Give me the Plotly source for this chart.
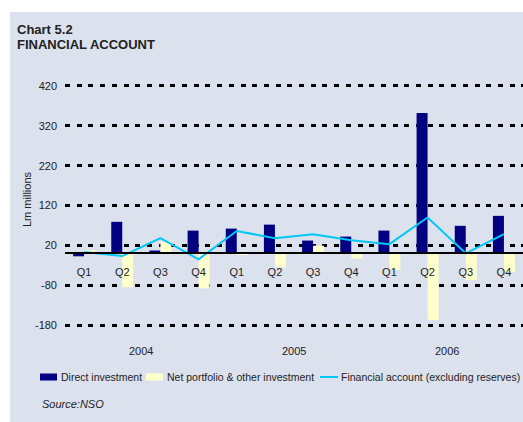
import plotly.graph_objects as go

# ---- data ----
quarters = ["Q1", "Q2", "Q3", "Q4", "Q1", "Q2", "Q3", "Q4", "Q1", "Q2", "Q3", "Q4"]
years = ["2004", "2005", "2006"]
direct_investment = [-7.5, 79, 7, 57, 62, 72, 32, 42, 57, 352, 69, 94]
net_portfolio = [8, -85, 29, -88, -3, -35, 19, -13, -42, -167, -67, -47]
financial_account = [3, -7, 38, -15, 56, 38, 48, 33, 23, 90, 0, 48]
y_ticks = [420, 320, 220, 120, 20, -80, -180]
y_tick_labels = ["420", "320", "220", "120", "20", "-80", "-180"]
legend_names = ["Direct investment", "Net portfolio & other investment",
                "Financial account (excluding reserves)"]
colors = ["#000080", "#FFFFCC", "#00C8F5"]

idx = list(range(len(quarters)))
year_pos = [1.5, 5.5, 9.5]

W, H = 523, 422
Y0, Y1 = -185, 425
ML, MR, MT, MB = 65, 0, 84, 95
PW, PH = W - ML - MR, H - MT - MB


def px_x(x):
    return (x - ML) / PW


def px_y(y):
    return (H - MB - y) / PH


BG = "#DCE1EE"
FONT = "Liberation Sans, Arial, Helvetica, sans-serif"
TXT = "#222"

fig = go.Figure()
fig.add_trace(go.Bar(x=idx, y=direct_investment, name=legend_names[0],
                     marker=dict(color=colors[0], line=dict(width=0))))
fig.add_trace(go.Bar(x=idx, y=net_portfolio, name=legend_names[1],
                     marker=dict(color=colors[1], line=dict(width=0))))
fig.add_trace(go.Scatter(x=idx, y=financial_account, mode="lines",
                         name=legend_names[2],
                         line=dict(color=colors[2], width=2)))


def ann(text, x, y, size=11, xanchor="left", xref="paper", **kw):
    return dict(text=text, x=x, y=y, xref=xref, yref="paper", xanchor=xanchor,
                yanchor="middle", showarrow=False, font=dict(size=size, color=TXT), **kw)


annotations = [
    ann("<b>Chart 5.2</b>", px_x(15), px_y(29), 13),
    ann("<b>FINANCIAL ACCOUNT</b>", px_x(15), px_y(45), 13),
    ann("<i>Source:NSO</i>", px_x(40), px_y(404), 11),
    ann("Lm millions", px_x(27), px_y(199), 11, "center", textangle=-90),
]
for yr, xp in zip(years, year_pos):
    annotations.append(ann(yr, xp, px_y(351), 11, "center", "x"))

# manual one-row legend
leg_y = 377
annotations.append(ann(legend_names[0], px_x(59), px_y(leg_y), 10.5))
annotations.append(ann(legend_names[1], px_x(165), px_y(leg_y), 10.5))
annotations.append(ann(legend_names[2], px_x(339), px_y(leg_y), 10.5))

shapes = [
    dict(type="rect", xref="paper", yref="paper", x0=px_x(-5), x1=px_x(W + 5),
         y0=px_y(12), y1=px_y(-5), fillcolor="white", line=dict(width=0), layer="below"),
    dict(type="rect", xref="paper", yref="paper", x0=px_x(-5), x1=px_x(10),
         y0=px_y(H + 5), y1=px_y(-5), fillcolor="white", line=dict(width=0), layer="below"),
    dict(type="rect", xref="paper", yref="paper", x0=px_x(40), x1=px_x(57),
         y0=px_y(leg_y + 3.5), y1=px_y(leg_y - 3.5), fillcolor=colors[0], line=dict(width=0)),
    dict(type="rect", xref="paper", yref="paper", x0=px_x(146), x1=px_x(163),
         y0=px_y(leg_y + 3.5), y1=px_y(leg_y - 3.5), fillcolor=colors[1], line=dict(width=0)),
    dict(type="line", xref="paper", yref="paper", x0=px_x(320), x1=px_x(338),
         y0=px_y(leg_y), y1=px_y(leg_y), line=dict(color=colors[2], width=2)),
]

fig.update_layout(
    width=W, height=H,
    margin=dict(l=ML, r=MR, t=MT, b=MB, pad=0, autoexpand=False),
    paper_bgcolor=BG, plot_bgcolor="rgba(0,0,0,0)",
    font=dict(family=FONT, size=11, color=TXT),
    barmode="group", bargap=0.424, bargroupgap=0,
    showlegend=False,
    xaxis=dict(range=[-0.5, 11.5], tickvals=idx, ticktext=quarters, showgrid=False,
               zeroline=False, showline=True, linecolor="black", linewidth=2,
               anchor="free", position=(0 - Y0) / (Y1 - Y0), ticks="", ticklabelstandoff=8,
               tickfont=dict(size=11, color=TXT), automargin=False),
    yaxis=dict(range=[Y0, Y1], tickvals=y_ticks, ticktext=y_tick_labels, showgrid=True,
               gridcolor="black", gridwidth=3, griddash="5px,6.7px", zeroline=False,
               showline=False, ticks="", ticklabelstandoff=7,
               tickfont=dict(size=11, color=TXT), automargin=False),
    annotations=annotations,
    shapes=shapes,
)

fig.write_html("out.html", config={"displayModeBar": False},
               post_script="document.body.style.margin='0';")
